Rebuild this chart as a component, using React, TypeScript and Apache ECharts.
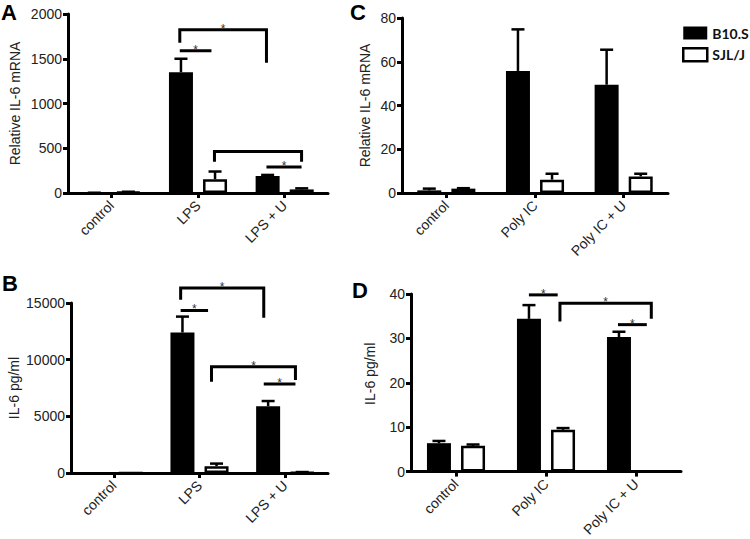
import React, { useEffect, useRef } from "react";
import * as echarts from "echarts";

// ---------- data ----------
const seriesNames = ["B10.S", "SJL/J"];
const categoriesLPS = ["control", "LPS", "LPS + U"];
const categoriesPolyIC = ["control", "Poly IC", "Poly IC + U"];

// Panel A: Relative IL-6 mRNA (LPS)
const aB10 = [2, 1350, 190];
const aB10Err = [1, 150, 12];
const aSJL = [12, 155, 40];
const aSJLErr = [2, 85, 12];
const yTicksA = [0, 500, 1000, 1500, 2000];

// Panel B: IL-6 pg/ml (LPS)
const bB10 = [5, 12400, 5900];
const bB10Err = [0, 1400, 450];
const bSJL = [5, 600, 60];
const bSJLErr = [0, 230, 25];
const yTicksB = [0, 5000, 10000, 15000];

// Panel C: Relative IL-6 mRNA (Poly IC)
const cB10 = [1.2, 55.8, 49.5];
const cB10Err = [0.8, 19, 16];
const cSJL = [2, 6.1, 7.6];
const cSJLErr = [0.2, 2.7, 1.2];
const yTicksC = [0, 20, 40, 60, 80];

// Panel D: IL-6 pg/ml (Poly IC)
const dB10 = [6.4, 34.4, 30.3];
const dB10Err = [0.5, 3.1, 1.2];
const dSJL = [5.8, 9.4, 0];
const dSJLErr = [0.3, 0.4, 0];
const yTicksD = [0, 10, 20, 30, 40];

// significance marks: [cat1, bandFrac1, cat2, bandFrac2, yTop, yLegLeft, yLegRight, star]
const bracketsA = [
  [1, -0.21, 2, -0.21, 1824, 1679, 1456, 1],
  [1, -0.21, 1, 0.155, 1590, 1590, 1590, 1],
  [1, 0.19, 2, 0.195, 465, 350, 350, 0],
  [2, -0.21, 2, 0.195, 290, 290, 290, 1],
];
const bracketsB = [
  [1, -0.22, 2, -0.25, 16320, 15280, 13690, 1],
  [1, -0.22, 1, 0.1, 14340, 14340, 14340, 1],
  [1, 0.14, 2, 0.12, 9380, 8050, 8200, 1],
  [2, -0.25, 2, 0.12, 7850, 7850, 7850, 1],
];
const bracketsC: number[][] = [];
const bracketsD = [
  [1, -0.19, 1, 0.13, 39.8, 39.8, 39.8, 1],
  [1, 0.155, 2, 0.17, 37.9, 33.8, 34.4, 1],
  [2, -0.2, 2, 0.12, 33.1, 33.1, 33.1, 1],
];

const yNames = ["Relative IL-6 mRNA", "IL-6 pg/ml", "Relative IL-6 mRNA", "IL-6 pg/ml"];
const panelLetters = ["A", "B", "C", "D"];

// ---------- layout / style ----------
const BAR_W = 24;
const BAR_GAP = 0.42;
const BAR_OFFSET = (BAR_W * (1 + BAR_GAP)) / 2;
const FONT = "Liberation Sans";

const grids = [
  { left: 68, top: 14, width: 260, height: 179 },
  { left: 71, top: 303, width: 257, height: 170 },
  { left: 402, top: 18, width: 266, height: 175 },
  { left: 411, top: 294, width: 270, height: 180 },
];
const nameGaps = [46, 50, 30, 34];
const namePads = [0, 0, 0, 18];
const letterPos = [
  [1, 1],
  [2, 272],
  [350, 1],
  [352, 279],
];

function errorSeries(gi: number, vals: number[], errs: number[], side: number) {
  return {
    type: "custom",
    xAxisIndex: gi,
    yAxisIndex: gi,
    z: 4,
    silent: true,
    clip: false,
    data: vals.map((v, i) => [i, v, v + errs[i], errs[i]]),
    renderItem: (params: any, api: any) => {
      if (api.value(3) <= 0) return null;
      const i = api.value(0);
      const base = api.coord([i, api.value(1)]);
      const top = api.coord([i, api.value(2)]);
      const x = base[0] + side * BAR_OFFSET;
      const st = { stroke: "#000", lineWidth: 2.5 };
      return {
        type: "group",
        children: [
          { type: "line", shape: { x1: x, y1: base[1], x2: x, y2: top[1] }, style: st },
          { type: "line", shape: { x1: x - 6.5, y1: top[1], x2: x + 6.5, y2: top[1] }, style: st },
        ],
      };
    },
  };
}

function bracketSeries(gi: number, brackets: number[][]) {
  return {
    type: "custom",
    xAxisIndex: gi,
    yAxisIndex: gi,
    z: 6,
    silent: true,
    clip: false,
    data: brackets.map((b) => [b[0], b[4]]),
    renderItem: (params: any, api: any) => {
      const b = brackets[params.dataIndex];
      const band = api.size([1, 0])[0];
      const x1 = api.coord([b[0], 0])[0] + b[1] * band;
      const x2 = api.coord([b[2], 0])[0] + b[3] * band;
      const yT = api.coord([0, b[4]])[1];
      const yL = api.coord([0, b[5]])[1];
      const yR = api.coord([0, b[6]])[1];
      const children: any[] = [
        {
          type: "polyline",
          shape: { points: [[x1, yL], [x1, yT], [x2, yT], [x2, yR]] },
          style: { stroke: "#000", lineWidth: 3, fill: null },
        },
      ];
      if (b[7]) {
        children.push({
          type: "text",
          x: (x1 + x2) / 2,
          y: yT - 1,
          style: {
            text: "*",
            fill: "#333",
            font: `12px "${FONT}"`,
            align: "center",
            verticalAlign: "middle",
          },
        });
      }
      return { type: "group", children };
    },
  };
}

export default function App() {
  const ref = useRef<HTMLDivElement>(null);

  useEffect(() => {
    if (!ref.current) return;
    const chart = echarts.init(ref.current, undefined, { renderer: "svg" });

    const panels = [
      { cats: categoriesLPS, b10: aB10, b10e: aB10Err, sjl: aSJL, sjle: aSJLErr, ticks: yTicksA, br: bracketsA },
      { cats: categoriesLPS, b10: bB10, b10e: bB10Err, sjl: bSJL, sjle: bSJLErr, ticks: yTicksB, br: bracketsB },
      { cats: categoriesPolyIC, b10: cB10, b10e: cB10Err, sjl: cSJL, sjle: cSJLErr, ticks: yTicksC, br: bracketsC },
      { cats: categoriesPolyIC, b10: dB10, b10e: dB10Err, sjl: dSJL, sjle: dSJLErr, ticks: yTicksD, br: bracketsD },
    ];

    const axisLine = { show: true, lineStyle: { color: "#000", width: 3 } };
    const axisTick = { show: true, length: 5, lineStyle: { color: "#000", width: 3 } };

    const xAxis = panels.map((p, gi) => ({
      type: "category",
      gridIndex: gi,
      data: p.cats,
      axisLine,
      axisTick: { ...axisTick, alignWithLabel: true },
      axisLabel: {
        interval: 0,
        rotate: 45,
        margin: 10,
        color: "#222",
        fontSize: 14,
        fontFamily: FONT,
      },
      splitLine: { show: false },
    }));

    const yAxis = panels.map((p, gi) => ({
      type: "value",
      gridIndex: gi,
      min: p.ticks[0],
      max: p.ticks[p.ticks.length - 1],
      interval: p.ticks[1] - p.ticks[0],
      name: yNames[gi],
      nameLocation: "middle",
      nameRotate: 90,
      nameGap: nameGaps[gi],
      nameTextStyle: {
        color: "#222",
        fontSize: 14,
        fontFamily: FONT,
        padding: [0, 0, 0, namePads[gi]],
      },
      axisLine,
      axisTick,
      axisLabel: {
        margin: 6,
        color: "#222",
        fontSize: 14,
        fontFamily: FONT,
        formatter: (v: number) => String(v),
      },
      splitLine: { show: false },
    }));

    const series: any[] = [];
    panels.forEach((p, gi) => {
      series.push({
        type: "bar",
        name: seriesNames[0],
        xAxisIndex: gi,
        yAxisIndex: gi,
        data: p.b10,
        barWidth: BAR_W,
        barGap: `${BAR_GAP * 100}%`,
        itemStyle: { color: "#000" },
        z: 2,
      });
      series.push({
        type: "bar",
        name: seriesNames[1],
        xAxisIndex: gi,
        yAxisIndex: gi,
        data: p.sjl,
        barWidth: BAR_W,
        barGap: `${BAR_GAP * 100}%`,
        itemStyle: { color: "#fff", borderColor: "#000", borderWidth: 2.5 },
        z: 2,
      });
      series.push(errorSeries(gi, p.b10, p.b10e, -1));
      series.push(errorSeries(gi, p.sjl, p.sjle, 1));
      if (p.br.length) series.push(bracketSeries(gi, p.br));
    });

    chart.setOption({
      animation: false,
      backgroundColor: "#fff",
      grid: grids.map((g) => ({ ...g, containLabel: false })),
      xAxis,
      yAxis,
      legend: {
        orient: "vertical",
        left: 677,
        top: 21,
        itemWidth: 24,
        itemHeight: 13,
        itemGap: 7,
        icon: "rect",
        selectedMode: false,
        textStyle: { fontFamily: "Lato", fontWeight: "bold", fontSize: 14, color: "#111" },
        data: [
          { name: seriesNames[0], itemStyle: { color: "#000", borderWidth: 0 } },
          { name: seriesNames[1], itemStyle: { color: "#fff", borderColor: "#000", borderWidth: 2.5 } },
        ],
      },
      graphic: panelLetters.map((t, i) => ({
        type: "text",
        x: letterPos[i][0],
        y: letterPos[i][1],
        style: {
          text: t,
          fill: "#000",
          font: `bold 22px "${FONT}"`,
          verticalAlign: "top",
        },
      })),
      series,
    });

    return () => chart.dispose();
  }, []);

  return (
    <div
      ref={ref}
      style={{ position: "absolute", left: 0, top: 0, width: 750, height: 539, background: "#fff" }}
    />
  );
}
